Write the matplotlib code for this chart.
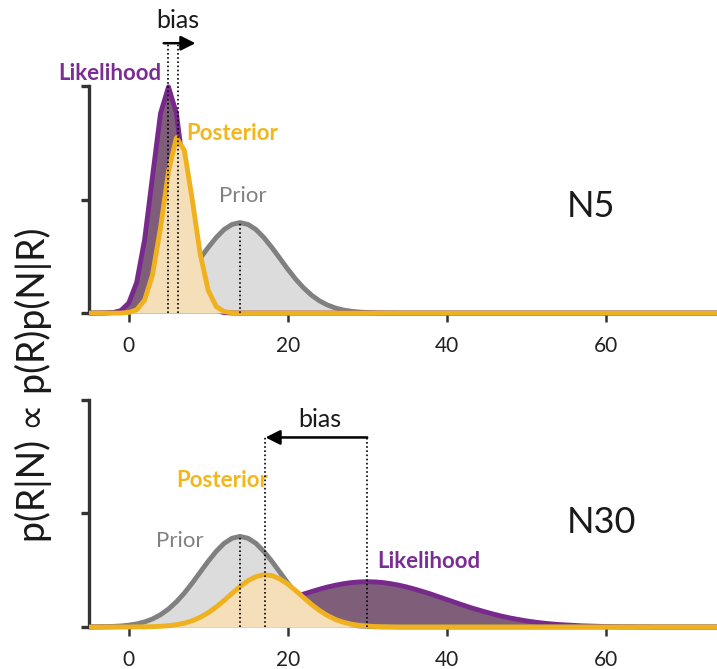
import numpy as np
import matplotlib
matplotlib.use('Agg')
import matplotlib.pyplot as plt

plt.rcParams['font.family'] = ['Lato', 'DejaVu Sans']

# R grid the densities are evaluated on
r_grid = np.arange(-5, 75)

# prior p(R), same in both panels
prior_start = -5
prior_vals = [0.0001, 0.0001, 0.0002, 0.0005, 0.0009,
              0.0016, 0.0027, 0.0045, 0.0071, 0.0108, 0.0158,
              0.0222, 0.0299, 0.0388, 0.0484, 0.0579,
              0.0666, 0.0737, 0.0782, 0.0798, 0.0782,
              0.0737, 0.0666, 0.0579, 0.0484, 0.0388,
              0.0299, 0.0222, 0.0158, 0.0108, 0.0071,
              0.0045, 0.0027, 0.0016, 0.0009, 0.0005,
              0.0002, 0.0001, 0.0001]
prior_mean = 14

# N = 5
lik5_start = -3
lik5_vals = [0.0001, 0.0004, 0.0022, 0.0088, 0.0270, 0.0648, 0.1210, 0.1761, 0.1995,
             0.1761, 0.1210, 0.0648, 0.0270, 0.0088, 0.0022, 0.0004, 0.0001]
lik5_mean = 5
post5_start = 0
post5_vals = [0.0006, 0.0029, 0.0115, 0.0341, 0.0753, 0.1248, 0.1547,
              0.1435, 0.0996, 0.0517, 0.0201, 0.0058, 0.0013, 0.0002]
post5_mean = 6.2

# N = 30
lik30_start = -5
lik30_vals = [0.0001, 0.0001, 0.0002, 0.0002, 0.0003, 0.0004, 0.0006, 0.0008, 0.0010,
              0.0014, 0.0018, 0.0022, 0.0028, 0.0035, 0.0044, 0.0054, 0.0066, 0.0079,
              0.0094, 0.0111, 0.0130, 0.0150, 0.0171, 0.0194, 0.0218, 0.0242, 0.0266,
              0.0290, 0.0312, 0.0333, 0.0352, 0.0368, 0.0381, 0.0391, 0.0397, 0.0399,
              0.0397, 0.0391, 0.0381, 0.0368, 0.0352, 0.0333, 0.0312, 0.0290, 0.0266,
              0.0242, 0.0218, 0.0194, 0.0171, 0.0150, 0.0130, 0.0111, 0.0094, 0.0079,
              0.0066, 0.0054, 0.0044, 0.0035, 0.0028, 0.0022, 0.0018, 0.0014, 0.0010,
              0.0008, 0.0006, 0.0004, 0.0003, 0.0002, 0.0002, 0.0001, 0.0001]
lik30_mean = 30
post30_start = 1
post30_vals = [0.0001, 0.0001, 0.0003, 0.0006, 0.0011,
               0.0020, 0.0034, 0.0055, 0.0086, 0.0126,
               0.0176, 0.0234, 0.0296, 0.0356, 0.0408,
               0.0444, 0.0460, 0.0453, 0.0424, 0.0378,
               0.0321, 0.0259, 0.0198, 0.0145, 0.0101,
               0.0066, 0.0042, 0.0025, 0.0014, 0.0008,
               0.0004, 0.0002, 0.0001]
post30_mean = 17.2

x_ticks = [0, 20, 40, 60]
y_ticks = [0, 0.1, 0.2]

PURPLE, PURPLE_FILL, PURPLE_TXT = '#782a8c', '#7f5e7a', '#7b2e92'
GRAY, GRAY_FILL = '#808080', '#dcdcdc'
GOLD, GOLD_FILL, GOLD_TXT = '#efb11e', '#f5dfb9', '#f3b61c'
DARK = '#333333'
INK = '#1a1a1a'


def on_grid(start, vals):
    y = np.zeros(len(r_grid))
    i = start - r_grid[0]
    y[i:i + len(vals)] = vals
    return y


def draw_density(ax, y, line, fill, z):
    ax.fill_between(r_grid, 0, y, color=fill, lw=0, zorder=z, clip_on=False)
    ax.plot(r_grid, y, color=line, lw=3.5, zorder=z + 0.5, clip_on=False,
            solid_joinstyle='round', solid_capstyle='butt')


def vdot(ax, x, top):
    ax.plot([x, x], [0, top], ls=(0, (1, 1.5)), color='k', lw=1.2, zorder=10, clip_on=False)


def style_axes(ax):
    ax.set_xlim(-5, 74)
    ax.set_ylim(0, 0.2)
    for s in ['top', 'right', 'bottom']:
        ax.spines[s].set_visible(False)
    ax.spines['left'].set_color(DARK)
    ax.spines['left'].set_linewidth(2.4)
    ax.set_xticks(x_ticks)
    ax.set_yticks(y_ticks)
    ax.set_yticklabels([])
    ax.tick_params(axis='y', length=6, width=2.4, color=DARK)
    ax.tick_params(axis='x', length=6.5, width=1.8, color=DARK, labelsize=15,
                   labelcolor='#222222', pad=10)


fig = plt.figure(figsize=(7.17, 6.69), dpi=100)
ax1 = fig.add_axes([0.1241, 0.532, 0.8759, 0.339])
ax2 = fig.add_axes([0.1241, 0.0628, 0.8759, 0.3393])

prior = on_grid(prior_start, prior_vals)
prior_peak = max(prior_vals)

# top panel: N5
draw_density(ax1, prior, GRAY, GRAY_FILL, 1)
draw_density(ax1, on_grid(lik5_start, lik5_vals), PURPLE, PURPLE_FILL, 2)
draw_density(ax1, on_grid(post5_start, post5_vals), GOLD, GOLD_FILL, 3)
vdot(ax1, prior_mean, prior_peak)
vdot(ax1, lik5_mean, 0.238)
vdot(ax1, post5_mean, 0.238)
ax1.annotate('', xy=(8.4, 0.238), xytext=(4.4, 0.238), annotation_clip=False,
             arrowprops=dict(arrowstyle='-|>', color='k', lw=1.8, mutation_scale=22,
                             shrinkA=0, shrinkB=0))
ax1.text(6.2, 0.258, 'bias', fontsize=18, ha='center', va='center', color=INK)
ax1.text(-2.4, 0.2115, 'Likelihood', fontsize=16, fontweight='bold', color=PURPLE_TXT,
         ha='center', va='center')
ax1.text(13.0, 0.158, 'Posterior', fontsize=16, fontweight='bold', color=GOLD_TXT,
         ha='center', va='center')
ax1.text(14.3, 0.103, 'Prior', fontsize=16, color=GRAY, ha='center', va='center')
ax1.text(58.1, 0.094, 'N5', fontsize=26, ha='center', va='center', color=INK)
style_axes(ax1)

# bottom panel: N30
draw_density(ax2, on_grid(lik30_start, lik30_vals), PURPLE, PURPLE_FILL, 1)
draw_density(ax2, prior, GRAY, GRAY_FILL, 2)
draw_density(ax2, on_grid(post30_start, post30_vals), GOLD, GOLD_FILL, 3)
vdot(ax2, prior_mean, prior_peak)
vdot(ax2, post30_mean, 0.167)
vdot(ax2, lik30_mean, 0.167)
ax2.annotate('', xy=(post30_mean, 0.167), xytext=(lik30_mean, 0.167), annotation_clip=False,
             arrowprops=dict(arrowstyle='-|>', color='k', lw=1.8, mutation_scale=22,
                             shrinkA=0, shrinkB=0))
ax2.text(24.0, 0.183, 'bias', fontsize=18, ha='center', va='center', color=INK)
ax2.text(11.7, 0.129, 'Posterior', fontsize=16, fontweight='bold', color=GOLD_TXT,
         ha='center', va='center')
ax2.text(6.4, 0.076, 'Prior', fontsize=16, color=GRAY, ha='center', va='center')
ax2.text(37.7, 0.058, 'Likelihood', fontsize=16, fontweight='bold', color=PURPLE_TXT,
         ha='center', va='center')
ax2.text(59.5, 0.0925, 'N30', fontsize=26, ha='center', va='center', color=INK)
style_axes(ax2)

fig.text(0.047, 0.4245, 'p(R|N) \u221d p(R)p(N|R)', rotation=90, fontsize=27,
         ha='center', va='center', color=INK)

fig.savefig('out.png', dpi=100)
